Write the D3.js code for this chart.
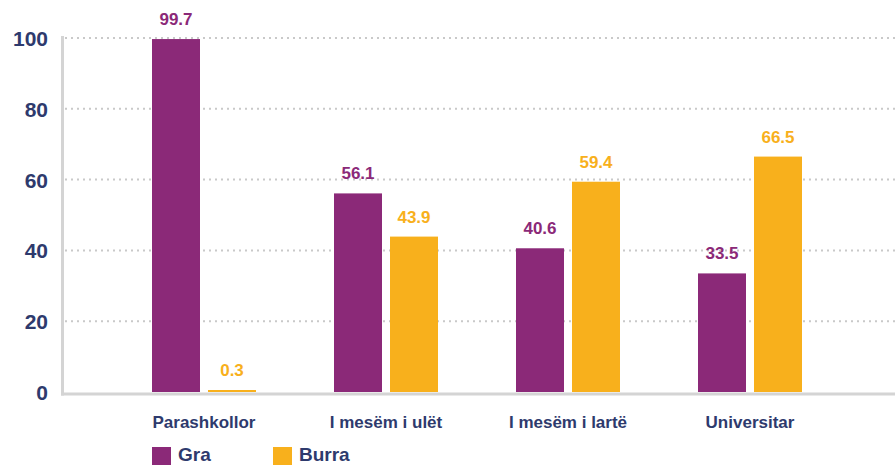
<!DOCTYPE html>
<html>
<head>
<meta charset="utf-8">
<script src="https://cdn.jsdelivr.net/npm/d3@7"></script>
<style>
  body { margin: 0; background: #ffffff; }
  text { font-family: "Liberation Sans", Arial, sans-serif; font-weight: bold; }
</style>
</head>
<body>
<svg></svg>
<script>
var screen = {width:895,height:465}

// data
var categories = ["Parashkollor", "I mesëm i ulët", "I mesëm i lartë", "Universitar"]
var seriesNames = ["Gra", "Burra"]
var graValues = [99.7, 56.1, 40.6, 33.5]
var burraValues = [0.3, 43.9, 59.4, 66.5]
var yTicks = [0, 20, 40, 60, 80, 100]

var colors = {Gra:"#8b2978", Burra:"#f8b01c"}
var navy = "#2e3a6d"

var rows = categories.map(function(c,i){
    return {cat:c, values:[{name:"Gra",v:graValues[i]},{name:"Burra",v:burraValues[i]}]}
})

var svg = d3.select("svg")
            .attr("width",screen.width)
            .attr("height",screen.height)

var yScale = d3.scaleLinear()
               .domain([0,100])
               .range([392,38])

var pad = 78/182
var xScale = d3.scaleBand()
               .domain(categories)
               .range([113,841])
               .paddingInner(pad)
               .paddingOuter(pad/2)

var xSub = d3.scaleBand()
             .domain(seriesNames)
             .range([0,xScale.bandwidth()])
             .paddingInner(8/56)

// gridlines
svg.append("g")
   .selectAll("line")
   .data(yTicks.filter(function(t){return t>0}))
   .enter()
   .append("line")
   .attr("x1",65)
   .attr("x2",895)
   .attr("y1",function(t){return yScale(t)})
   .attr("y2",function(t){return yScale(t)})
   .attr("stroke","#c9c9c9")
   .attr("stroke-width",2)
   .attr("stroke-dasharray","2,4")

// axis lines (under the bars)
svg.append("line")
   .attr("x1",62.5).attr("x2",62.5)
   .attr("y1",36).attr("y2",395.5)
   .attr("stroke","#d4d4d4").attr("stroke-width",3)
svg.append("line")
   .attr("x1",61).attr("x2",895)
   .attr("y1",394).attr("y2",394)
   .attr("stroke","#d4d4d4").attr("stroke-width",3)

// y axis labels
var yAxis = d3.axisLeft(yScale).tickValues(yTicks).tickSize(0).tickPadding(0)
var yG = svg.append("g")
   .attr("transform","translate(48,0)")
   .call(yAxis)
yG.select(".domain").remove()
yG.selectAll("text")
  .attr("fill",navy)
  .style("font-size","21px")
  .style("font-family","'Liberation Sans', Arial, sans-serif")
  .attr("dy","0.36em")

// bars
var groups = svg.append("g")
   .selectAll("g")
   .data(rows)
   .enter()
   .append("g")
   .attr("transform",function(d){return "translate("+xScale(d.cat)+",0)"})

groups.selectAll("rect")
   .data(function(d){return d.values})
   .enter()
   .append("rect")
   .attr("x",function(d){return xSub(d.name)})
   .attr("width",xSub.bandwidth())
   .attr("y",function(d){return Math.min(yScale(d.v), yScale(0)-2)})
   .attr("height",function(d){return Math.max(yScale(0)-yScale(d.v), 2)})
   .attr("fill",function(d){return colors[d.name]})

groups.selectAll("text.val")
   .data(function(d){return d.values})
   .enter()
   .append("text")
   .attr("class","val")
   .attr("x",function(d){return xSub(d.name)+xSub.bandwidth()/2})
   .attr("y",function(d){return Math.min(yScale(d.v), yScale(0)-2)-14})
   .attr("text-anchor","middle")
   .attr("fill",function(d){return colors[d.name]})
   .style("font-size","17px")
   .text(function(d){return d.v.toFixed(1)})

// x labels
var xAxis = d3.axisBottom(xScale).tickSize(0).tickPadding(0)
var xG = svg.append("g")
   .attr("transform","translate(0,428)")
   .call(xAxis)
xG.select(".domain").remove()
xG.selectAll("text")
  .attr("fill",navy)
  .attr("dy","0")
  .style("font-size","17px")
  .style("font-family","'Liberation Sans', Arial, sans-serif")

// legend
var legendX = [152, 273]
var legend = svg.append("g")
   .selectAll("g")
   .data(seriesNames)
   .enter()
   .append("g")
   .attr("transform",function(d,i){return "translate("+legendX[i]+",447)"})
legend.append("rect")
   .attr("width",19).attr("height",19)
   .attr("fill",function(d){return colors[d]})
legend.append("text")
   .attr("x",26).attr("y",14)
   .attr("fill",navy)
   .style("font-size","19px")
   .text(function(d){return d})
</script>
</body>
</html>
